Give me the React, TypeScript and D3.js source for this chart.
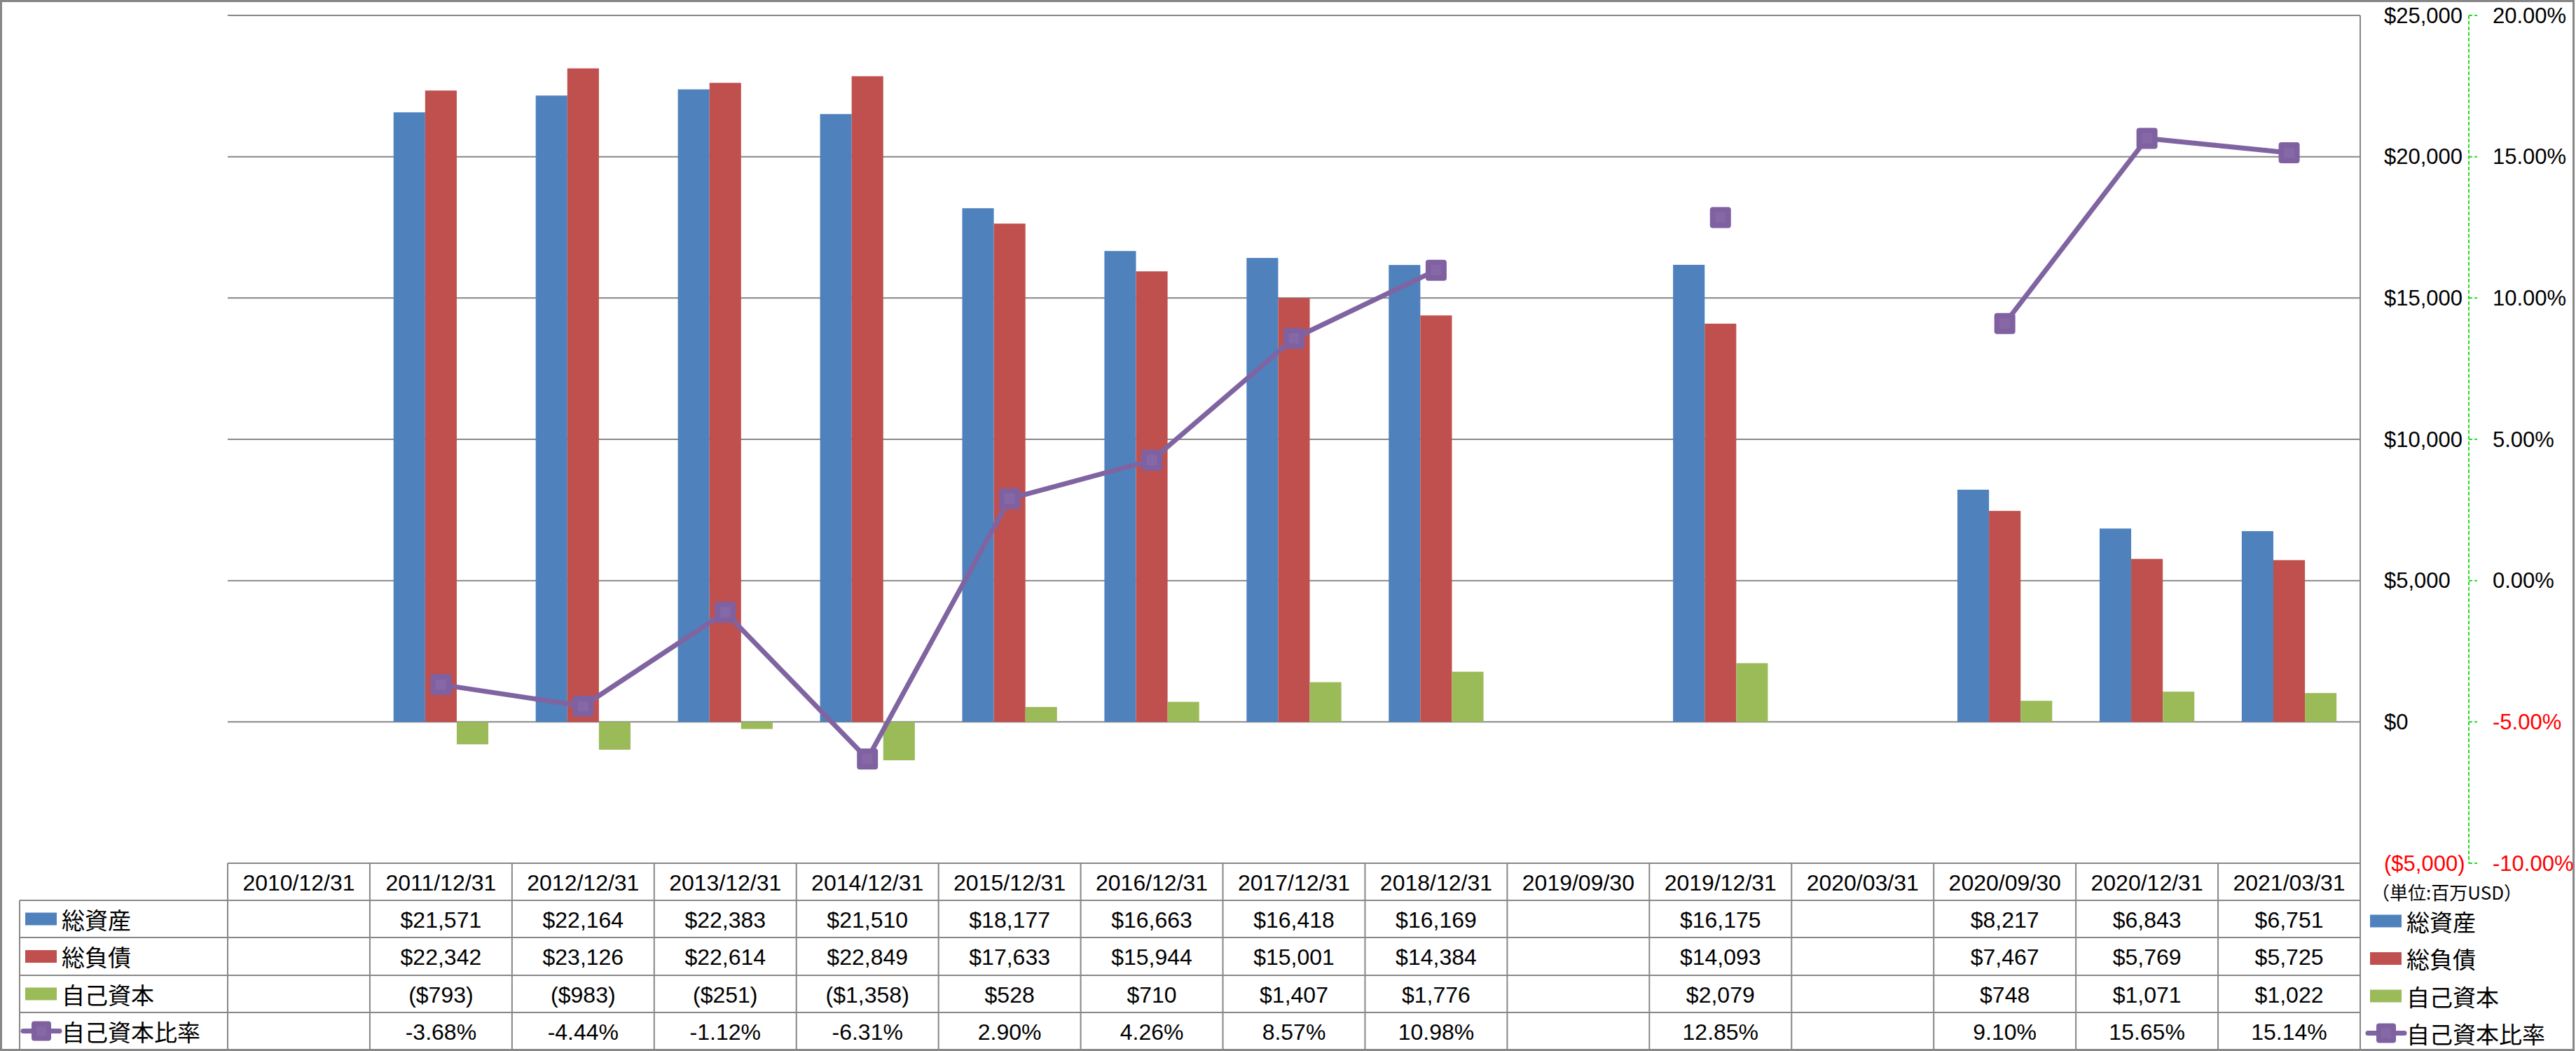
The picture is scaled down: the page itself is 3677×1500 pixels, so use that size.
import React, { useEffect } from "react";
import * as d3 from "d3";

const categories = [
  "2010/12/31", "2011/12/31", "2012/12/31", "2013/12/31", "2014/12/31",
  "2015/12/31", "2016/12/31", "2017/12/31", "2018/12/31", "2019/09/30",
  "2019/12/31", "2020/03/31", "2020/09/30", "2020/12/31", "2021/03/31",
];
const totalAssets: (number | null)[] = [null, 21571, 22164, 22383, 21510, 18177, 16663, 16418, 16169, null, 16175, null, 8217, 6843, 6751];
const totalLiabilities: (number | null)[] = [null, 22342, 23126, 22614, 22849, 17633, 15944, 15001, 14384, null, 14093, null, 7467, 5769, 5725];
const equity: (number | null)[] = [null, -793, -983, -251, -1358, 528, 710, 1407, 1776, null, 2079, null, 748, 1071, 1022];
const equityRatio: (number | null)[] = [null, -3.68, -4.44, -1.12, -6.31, 2.9, 4.26, 8.57, 10.98, null, 12.85, null, 9.1, 15.65, 15.14];

const leftTicks = [25000, 20000, 15000, 10000, 5000, 0, -5000];
const rightTicks = [20, 15, 10, 5, 0, -5, -10];

const seriesNames = ["総資産", "総負債", "自己資本", "自己資本比率"];
const unitLabel = "（単位:百万USD）";

const W = 3677, H = 1500;
const PL = 325, PR = 3369, PT = 22, PB = 1232;
const ROWS = [1232, 1285, 1338, 1392, 1445, 1498];
const LEG_L = 28;
const BLUE = "#4F81BD", RED = "#C0504D", GREEN = "#9BBB59", PURPLE = "#8064A2";
const GRID = "#878787";
const NUM_FONT = "'Liberation Sans', Arial, sans-serif";
const CJK_FONT = "'Noto Sans CJK JP', 'Noto Sans CJK SC', sans-serif";

const fmtMoney = (v: number) => (v < 0 ? `($${d3.format(",")(-v)})` : `$${d3.format(",")(v)}`);
const fmtPct = (v: number) => `${v.toFixed(2)}%`;

function Marker({ cx, cy, s = 30 }: { cx: number; cy: number; s?: number }) {
  return (
    <g>
      <rect x={cx - s / 2} y={cy - s / 2} width={s} height={s} rx={4} fill="#7F60A1" />
      <rect x={cx - s / 4} y={cy - s / 4} width={s / 2} height={s / 2} fill="#8568A5" />
    </g>
  );
}

export default function App() {
  useEffect(() => {
    document.body.style.margin = "0";
  }, []);

  const x = d3.scaleBand<string>().domain(categories).range([PL, PR]).padding(0);
  const bw = x.bandwidth();
  const sub = d3.scaleBand<string>().domain(["a", "l", "e"]).range([0, bw]).paddingInner(0).paddingOuter(0.75);
  const yL = d3.scaleLinear().domain([-5000, 25000]).range([PB, PT]);
  const yR = d3.scaleLinear().domain([-10, 20]).range([PB, PT]);

  const lineGen = d3
    .line<number | null>()
    .defined((d) => d !== null)
    .x((_, i) => (x(categories[i]) as number) + bw / 2)
    .y((d) => yR(d as number));

  const barSeries = [
    { key: "a", data: totalAssets, color: BLUE },
    { key: "l", data: totalLiabilities, color: RED },
    { key: "e", data: equity, color: GREEN },
  ];

  const tableRows = [
    { data: totalAssets, fmt: fmtMoney },
    { data: totalLiabilities, fmt: fmtMoney },
    { data: equity, fmt: fmtMoney },
    { data: equityRatio, fmt: fmtPct },
  ];
  const legendColors = [BLUE, RED, GREEN];

  const legendKey = (i: number, x0: number, cy: number) =>
    i < 3 ? (
      <rect x={x0} y={cy - 9} width={45} height={18} fill={legendColors[i]} />
    ) : (
      <g>
        <line x1={x0 - 3} x2={x0 + 49} y1={cy} y2={cy} stroke={PURPLE} strokeWidth={7} strokeLinecap="round" />
        <Marker cx={x0 + 23} cy={cy} s={28} />
      </g>
    );

  return (
    <svg width={W} height={H} style={{ display: "block", background: "#fff" }}>
      <rect x={1.5} y={1.5} width={W - 5} height={H - 3} fill="#fff" stroke={GRID} strokeWidth={3} />

      {leftTicks.map((t) => (
        <line key={t} x1={PL} x2={PR} y1={yL(t)} y2={yL(t)} stroke={GRID} strokeWidth={2} />
      ))}
      <line x1={PR} x2={PR} y1={PT} y2={PB} stroke={GRID} strokeWidth={2} />

      {barSeries.map((s) =>
        s.data.map((v, i) => {
          if (v === null) return null;
          const bx = (x(categories[i]) as number) + (sub(s.key) as number);
          const y0 = yL(0), y1 = yL(v);
          return (
            <rect key={s.key + i} x={bx} width={sub.bandwidth()} y={Math.min(y0, y1)} height={Math.abs(y1 - y0)} fill={s.color} />
          );
        })
      )}

      <path d={lineGen(equityRatio) || ""} fill="none" stroke={PURPLE} strokeWidth={7} strokeLinejoin="round" />
      {equityRatio.map((v, i) =>
        v === null ? null : <Marker key={"m" + i} cx={(x(categories[i]) as number) + bw / 2} cy={yR(v)} />
      )}

      {leftTicks.map((t) => (
        <text key={"l" + t} x={3403} y={yL(t)} dominantBaseline="central" fontFamily={NUM_FONT} fontSize={31} fill={t < 0 ? "#FF0000" : "#000"}>
          {fmtMoney(t)}
        </text>
      ))}
      <line x1={3524} x2={3524} y1={PT} y2={PB} stroke="#22DD22" strokeWidth={2} strokeDasharray="5,3" />
      {rightTicks.map((t) => (
        <g key={"r" + t}>
          <line x1={3524} x2={3536} y1={yR(t)} y2={yR(t)} stroke="#22DD22" strokeWidth={2} strokeDasharray="5,3" />
          <text x={3558} y={yR(t)} dominantBaseline="central" fontFamily={NUM_FONT} fontSize={31} fill={t < 0 ? "#FF0000" : "#000"}>
            {fmtPct(t)}
          </text>
        </g>
      ))}

      <g>
        <line x1={PL} x2={PR} y1={ROWS[0]} y2={ROWS[0]} stroke={GRID} strokeWidth={2} />
        {ROWS.slice(1).map((r, i) => (
          <line key={"h" + i} x1={LEG_L} x2={PR} y1={r} y2={r} stroke={GRID} strokeWidth={2} />
        ))}
        <line x1={LEG_L} x2={LEG_L} y1={ROWS[1]} y2={ROWS[5]} stroke={GRID} strokeWidth={2} />
        {categories.map((c) => (
          <line key={"v" + c} x1={x(c) as number} x2={x(c) as number} y1={ROWS[0]} y2={ROWS[5]} stroke={GRID} strokeWidth={2} />
        ))}
        <line x1={PR} x2={PR} y1={ROWS[0]} y2={ROWS[5]} stroke={GRID} strokeWidth={2} />

        {categories.map((c) => (
          <text key={"t" + c} x={(x(c) as number) + bw / 2} y={(ROWS[0] + ROWS[1]) / 2 + 1} textAnchor="middle" dominantBaseline="central" fontFamily={NUM_FONT} fontSize={32} fill="#000">
            {c}
          </text>
        ))}
        {tableRows.map((row, ri) =>
          row.data.map((v, i) =>
            v === null ? null : (
              <text key={"c" + ri + "_" + i} x={(x(categories[i]) as number) + bw / 2} y={(ROWS[ri + 1] + ROWS[ri + 2]) / 2 + 1} textAnchor="middle" dominantBaseline="central" fontFamily={NUM_FONT} fontSize={32} fill="#000">
                {row.fmt(v)}
              </text>
            )
          )
        )}
        {seriesNames.map((n, i) => {
          const cy = (ROWS[i + 1] + ROWS[i + 2]) / 2;
          return (
            <g key={"lg" + i}>
              {legendKey(i, 36, cy)}
              <text x={88} y={cy} dominantBaseline="central" fontFamily={CJK_FONT} fontSize={33} fill="#000">
                {n}
              </text>
            </g>
          );
        })}
      </g>

      <text x={3385} y={1272} dominantBaseline="central" fontFamily={CJK_FONT} fontSize={26} fill="#000">
        {unitLabel}
      </text>
      {seriesNames.map((n, i) => {
        const cy = (ROWS[i + 1] + ROWS[i + 2]) / 2 + 3;
        return (
          <g key={"rl" + i}>
            {legendKey(i, 3383, cy)}
            <text x={3435} y={cy} dominantBaseline="central" fontFamily={CJK_FONT} fontSize={33} fill="#000">
              {n}
            </text>
          </g>
        );
      })}
    </svg>
  );
}
